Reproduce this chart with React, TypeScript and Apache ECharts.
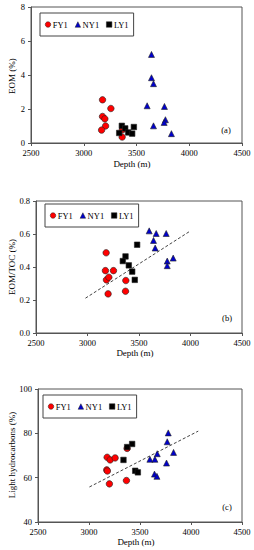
import React, { useEffect, useRef } from "react";
import * as echarts from "echarts";

// ---- Panel (a): EOM (%) vs depth ----
const fy1DepthA = [3178, 3257, 3178, 3200, 3207, 3169, 3364, 3367];
const fy1EomA = [2.54, 2.03, 1.56, 1.42, 1.0, 0.76, 0.35, 0.78];
const ny1DepthA = [3642, 3642, 3661, 3601, 3765, 3774, 3762, 3661, 3831];
const ny1EomA = [5.21, 3.84, 3.49, 2.19, 2.15, 1.37, 1.21, 1.01, 0.55];
const ly1DepthA = [3361, 3393, 3336, 3421, 3459, 3475];
const ly1EomA = [1.01, 0.86, 0.59, 0.62, 0.55, 0.94];

// ---- Panel (b): EOM/TOC (%) vs depth ----
const fy1DepthB = [3181, 3174, 3184, 3207, 3252, 3200, 3372, 3369];
const fy1RatioB = [0.486, 0.378, 0.322, 0.338, 0.378, 0.237, 0.318, 0.253];
const ny1DepthB = [3599, 3667, 3764, 3641, 3657, 3774, 3774, 3832];
const ny1RatioB = [0.619, 0.603, 0.603, 0.561, 0.515, 0.436, 0.408, 0.454];
const ly1DepthB = [3482, 3369, 3343, 3401, 3434, 3459];
const ly1RatioB = [0.535, 0.464, 0.436, 0.41, 0.372, 0.322];
const trendDepthB = [2980, 3985];
const trendRatioB = [0.211, 0.613];

// ---- Panel (c): Light hydrocarbons (%) vs depth ----
const fy1DepthC = [3178, 3207, 3256, 3174, 3200, 3367, 3374, 3180];
const fy1LightC = [69.2, 68.0, 68.9, 63.5, 57.2, 58.7, 73.2, 63.0];
const ny1DepthC = [3777, 3767, 3829, 3669, 3597, 3646, 3760, 3642, 3666];
const ny1LightC = [80.2, 76.2, 71.4, 70.8, 68.3, 68.3, 66.6, 61.6, 60.6];
const ly1DepthC = [3423, 3374, 3338, 3453, 3479];
const ly1LightC = [75.2, 73.8, 68.0, 63.1, 62.4];
const trendDepthC = [3004, 4071];
const trendLightC = [55.8, 81.0];

const wellNames = ["FY1", "NY1", "LY1"];
const panelLabels = ["(a)", "(b)", "(c)"];
const yNames = ["EOM (%)", "EOM/TOC (%)", "Light hydrocarbons (%)"];
const xName = "Depth (m)";

const FONT = "Liberation Serif";
const AX = "#555";

const zip = (xs: number[], ys: number[]) => xs.map((x, i) => [x, ys[i]]);

export default function App() {
  const ref = useRef<HTMLDivElement>(null);
  useEffect(() => {
    if (!ref.current) return;
    const chart = echarts.init(ref.current, null, { renderer: "svg" });

    const grids = [
      { left: 31, top: 7, width: 211, height: 136 },
      { left: 36, top: 201, width: 206, height: 132 },
      { left: 38, top: 389, width: 204, height: 133 },
    ];
    const yCfg = [
      { min: 0, max: 8, interval: 2, fmt: (v: number) => String(v) },
      { min: 0, max: 0.8, interval: 0.2, fmt: (v: number) => v.toFixed(1) },
      { min: 40, max: 100, interval: 20, fmt: (v: number) => String(v) },
    ];

    const xAxis = grids.map((_, i) => ({
      type: "value",
      gridIndex: i,
      min: 2500,
      max: 4500,
      interval: 500,
      axisLine: { show: true, lineStyle: { color: AX, width: 1 } },
      axisTick: { show: true, length: 3, lineStyle: { color: AX } },
      splitLine: { show: false },
      axisLabel: {
        fontFamily: FONT,
        fontSize: 8.5,
        color: "#000",
        margin: 5,
        formatter: (v: number) => String(v),
      },
    }));
    const yAxis = grids.map((_, i) => ({
      type: "value",
      gridIndex: i,
      min: yCfg[i].min,
      max: yCfg[i].max,
      interval: yCfg[i].interval,
      axisLine: { show: true, lineStyle: { color: AX, width: 1 } },
      axisTick: { show: true, length: 3, lineStyle: { color: AX } },
      splitLine: { show: false },
      axisLabel: {
        fontFamily: FONT,
        fontSize: 8.5,
        color: "#000",
        margin: 6,
        formatter: yCfg[i].fmt,
      },
    }));

    const styles = [
      { symbol: "circle", size: 6.5, color: "#ff0000" },
      { symbol: "triangle", size: 6, color: "#0000cc" },
      { symbol: "rect", size: 5.5, color: "#000000" },
    ];
    const panelData = [
      [zip(fy1DepthA, fy1EomA), zip(ny1DepthA, ny1EomA), zip(ly1DepthA, ly1EomA)],
      [zip(fy1DepthB, fy1RatioB), zip(ny1DepthB, ny1RatioB), zip(ly1DepthB, ly1RatioB)],
      [zip(fy1DepthC, fy1LightC), zip(ny1DepthC, ny1LightC), zip(ly1DepthC, ly1LightC)],
    ];

    const series: any[] = [];
    panelData.forEach((sets, gi) => {
      sets.forEach((d, si) => {
        series.push({
          type: "scatter",
          name: wellNames[si],
          xAxisIndex: gi,
          yAxisIndex: gi,
          data: d,
          symbol: styles[si].symbol,
          symbolSize: styles[si].size,
          itemStyle: {
            color: styles[si].color,
            borderColor: "#222",
            borderWidth: 0.6,
            opacity: 1,
          },
        });
      });
    });
    const trends = [
      { gi: 1, d: zip(trendDepthB, trendRatioB) },
      { gi: 2, d: zip(trendDepthC, trendLightC) },
    ];
    trends.forEach((t) =>
      series.push({
        type: "line",
        xAxisIndex: t.gi,
        yAxisIndex: t.gi,
        data: t.d,
        symbol: "none",
        silent: true,
        lineStyle: { color: "#444", width: 1, type: [3, 2] },
        z: 1,
      })
    );

    const legendPos = [
      { left: 40, top: 13 },
      { left: 45, top: 204 },
      { left: 43, top: 395 },
    ];
    const legend = legendPos.map((p) => ({
      left: p.left,
      top: p.top,
      orient: "horizontal",
      data: wellNames.map((n) => ({ name: n, itemStyle: { borderWidth: 0.5 } })),
      itemWidth: 5.5,
      itemHeight: 5.5,
      itemGap: 7,
      padding: [7, 5, 7, 5],
      borderColor: "#444",
      borderWidth: 1,
      selectedMode: false,
      textStyle: { fontFamily: FONT, fontSize: 8.5, color: "#000", padding: [0, 0, 0, -3] },
    }));

    const xNamePos = [
      [132, 164],
      [135, 353],
      [136, 542],
    ];
    const yNamePos = [
      [12, 76],
      [12, 267],
      [12, 455],
    ];
    const panelPos = [
      [226, 130],
      [227, 318],
      [227, 507],
    ];
    const graphic: any[] = [];
    for (let i = 0; i < 3; i++) {
      graphic.push({
        type: "text",
        x: xNamePos[i][0],
        y: xNamePos[i][1],
        style: {
          text: xName,
          fontFamily: FONT,
          fontSize: 9,
          fill: "#000",
          textAlign: "center",
          textVerticalAlign: "middle",
        },
      });
      graphic.push({
        type: "text",
        x: yNamePos[i][0],
        y: yNamePos[i][1],
        rotation: Math.PI / 2,
        style: {
          text: yNames[i],
          fontFamily: FONT,
          fontSize: 9,
          fill: "#000",
          textAlign: "center",
          textVerticalAlign: "middle",
        },
      });
      graphic.push({
        type: "text",
        x: panelPos[i][0],
        y: panelPos[i][1],
        style: {
          text: panelLabels[i],
          fontFamily: FONT,
          fontSize: 8.5,
          fill: "#000",
          textAlign: "center",
          textVerticalAlign: "middle",
        },
      });
    }

    chart.setOption({
      animation: false,
      backgroundColor: "#fff",
      grid: grids.map((g) => ({
        ...g,
        show: true,
        borderColor: AX,
        borderWidth: 1,
        backgroundColor: "transparent",
      })),
      xAxis,
      yAxis,
      legend,
      series,
      graphic,
    });
    return () => chart.dispose();
  }, []);

  return (
    <div
      ref={ref}
      style={{ position: "absolute", left: 0, top: 0, width: 254, height: 550 }}
    />
  );
}
